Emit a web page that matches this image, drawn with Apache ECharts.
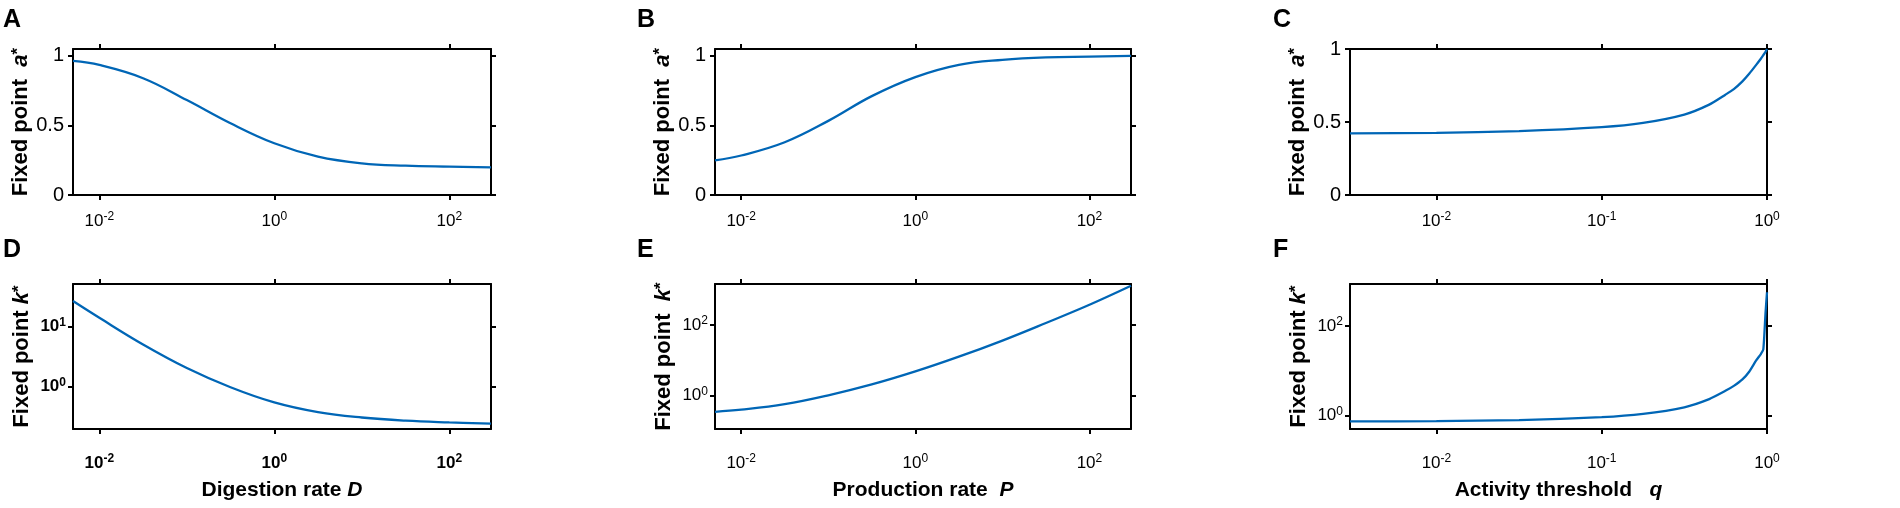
<!DOCTYPE html>
<html>
<head>
<meta charset="utf-8">
<script src="https://cdn.jsdelivr.net/npm/echarts@6/dist/echarts.min.js"></script>
<style>
  html, body { margin: 0; padding: 0; background: #fff; }
  #chart { width: 1900px; height: 508px; }
</style>
</head>
<body>
<div id="chart"></div>
<script>
// x grid shared by panels A, B, D, E (digestion rate D / production rate P)
const rateGrid = [0.005, 0.01, 0.0316, 0.1, 0.316, 1, 3.16, 10, 31.6, 100, 300];
// x grid for panels C, F (activity threshold q)
const qGrid = [0.003, 0.01, 0.0316, 0.1, 0.178, 0.316, 0.447, 0.56, 0.63, 0.71, 0.78, 0.86, 0.92, 0.95, 0.98, 1.0];

const aVsD = [0.964, 0.935, 0.84, 0.683, 0.516, 0.372, 0.276, 0.228, 0.211, 0.204, 0.199];
const aVsP = [0.249, 0.284, 0.379, 0.533, 0.711, 0.848, 0.936, 0.972, 0.99, 0.995, 1.0];
const aVsQ = [0.422, 0.426, 0.438, 0.465, 0.494, 0.551, 0.619, 0.687, 0.725, 0.778, 0.83, 0.891, 0.935, 0.958, 0.98, 1.0];
const kVsD = [26.1, 13.8, 5.0, 2.04, 0.98, 0.55, 0.38, 0.31, 0.275, 0.257, 0.245];
const kVsP = [0.34, 0.39, 0.56, 1.0, 2.04, 4.79, 12.6, 36.3, 115, 380, 1320];
const kVsQ = [0.74, 0.75, 0.79, 0.92, 1.09, 1.53, 2.33, 3.56, 4.6, 6.4, 9.5, 17, 24, 30, 200, 570];

// tick positions
const rateTicks = [0.01, 1, 100];
const qTicks = [0.01, 0.1, 1];
const aTicks = [0, 0.5, 1];
const kTicksD = [1, 10];
const kTicksPQ = [1, 100];

const FONT = '"Liberation Sans", Arial, sans-serif';
const BLUE = '#0066b6';

const chart = echarts.init(document.getElementById('chart'));

function pow10Label(v) {
  const e = Math.round(Math.log10(v));
  return '{b|10}{s|' + e + '}';
}

function richNum(bold) {
  const w = bold ? 'bold' : 'normal';
  return {
    b: { fontFamily: FONT, fontSize: 17, fontWeight: w, color: '#000', lineHeight: 20 },
    s: { fontFamily: FONT, fontSize: 12, fontWeight: w, color: '#000', verticalAlign: 'top', lineHeight: 12 }
  };
}

function nameRich(size) {
  return {
    t: { fontFamily: FONT, fontSize: size, fontWeight: 'bold', color: '#000' },
    v: { fontFamily: FONT, fontSize: size, fontWeight: 'bold', fontStyle: 'italic', color: '#000' },
    s: { fontFamily: FONT, fontSize: size - 5, fontWeight: 'bold', color: '#000', verticalAlign: 'top' }
  };
}

const frameLine = { show: true, onZero: false, lineStyle: { color: '#000', width: 2 } };
const frameTick = { show: true, inside: false, length: 5, lineStyle: { color: '#000', width: 2 } };

const panels = [
  { letter: 'A', col: 0, row: 0, xs: rateGrid, ys: aVsD, xMin: 0.005, xMax: 300, xTicks: rateTicks,
    yLog: false, yMin: 0, yMax: 1.05, yTicks: aTicks, yName: '{t|Fixed point  }{v|a}{s|*}', smooth: 0.4 },
  { letter: 'B', col: 1, row: 0, xs: rateGrid, ys: aVsP, xMin: 0.005, xMax: 300, xTicks: rateTicks,
    yLog: false, yMin: 0, yMax: 1.05, yTicks: aTicks, yName: '{t|Fixed point  }{v|a}{s|*}', smooth: 0.4 },
  { letter: 'C', col: 2, row: 0, xs: qGrid, ys: aVsQ, xMin: 0.003, xMax: 1, xTicks: qTicks,
    yLog: false, yMin: 0, yMax: 1, yTicks: aTicks, yName: '{t|Fixed point  }{v|a}{s|*}', smooth: 0.2 },
  { letter: 'D', col: 0, row: 1, xs: rateGrid, ys: kVsD, xMin: 0.005, xMax: 300, xTicks: rateTicks,
    yLog: true, yMin: 0.2, yMax: 50, yTicks: kTicksD, yName: '{t|Fixed point }{v|k}{s|*}',
    xName: '{t|Digestion rate }{v|D}', bold: true, smooth: 0.4 },
  { letter: 'E', col: 1, row: 1, xs: rateGrid, ys: kVsP, xMin: 0.005, xMax: 300, xTicks: rateTicks,
    yLog: true, yMin: 0.11, yMax: 1480, yTicks: kTicksPQ, yName: '{t|Fixed point  }{v|k}{s|*}',
    xName: '{t|Production rate  }{v|P}', smooth: 0.4 },
  { letter: 'F', col: 2, row: 1, xs: qGrid, ys: kVsQ, xMin: 0.003, xMax: 1, xTicks: qTicks,
    yLog: true, yMin: 0.5, yMax: 870, yTicks: kTicksPQ, yName: '{t|Fixed point }{v|k}{s|*}',
    xName: '{t|Activity threshold   }{v|q}', smooth: 0.2 }
];

const colLeft = [73, 715, 1350];
const colWidth = [418, 416, 417];
const rowTop = [49, 284];
const rowHeight = [146, 145];
const letterX = [3, 637, 1273];
const letterY = [8, 238];

const grid = [], xAxis = [], yAxis = [], series = [], title = [];

panels.forEach((p, i) => {
  grid.push({
    left: colLeft[p.col], top: rowTop[p.row],
    width: colWidth[p.col], height: rowHeight[p.row],
    containLabel: false, outerBoundsMode: 'none'
  });
  title.push({
    text: p.letter, left: letterX[p.col], top: letterY[p.row], padding: 0,
    textStyle: { fontFamily: FONT, fontSize: 25, fontWeight: 'bold', color: '#000' }
  });

  const xBase = {
    type: 'log', logBase: 10, gridIndex: i, min: p.xMin, max: p.xMax,
    axisLine: frameLine, splitLine: { show: false }
  };
  xAxis.push(Object.assign({}, xBase, {
    position: 'bottom',
    axisTick: Object.assign({ customValues: p.xTicks }, frameTick),
    axisLabel: {
      customValues: p.xTicks, formatter: pow10Label, margin: p.row === 0 ? 16 : 24,
      rich: richNum(p.bold)
    },
    name: p.xName || '', nameLocation: 'middle', nameGap: 51,
    nameTextStyle: { rich: nameRich(21) }
  }));
  xAxis.push(Object.assign({}, xBase, {
    position: 'top',
    axisTick: Object.assign({ customValues: p.xTicks }, frameTick),
    axisLabel: { show: false }
  }));

  const yBase = p.yLog
    ? { type: 'log', logBase: 10 }
    : { type: 'value' };
  Object.assign(yBase, {
    gridIndex: i, min: p.yMin, max: p.yMax,
    axisLine: frameLine, splitLine: { show: false }
  });
  const yLabel = p.yLog
    ? { customValues: p.yTicks, formatter: pow10Label, margin: 7, rich: richNum(p.bold) }
    : { customValues: p.yTicks, formatter: v => String(v), margin: 9,
        fontFamily: FONT, fontSize: 20, color: '#000' };
  yAxis.push(Object.assign({}, yBase, {
    position: 'left',
    axisTick: Object.assign({ customValues: p.yTicks }, frameTick),
    axisLabel: yLabel,
    name: p.yName, nameLocation: 'middle', nameGap: 40, nameRotate: 90,
    nameTextStyle: { rich: nameRich(22) }
  }));
  yAxis.push(Object.assign({}, yBase, {
    position: 'right',
    axisTick: Object.assign({ customValues: p.yTicks }, frameTick),
    axisLabel: { show: false }
  }));

  series.push({
    type: 'line',
    xAxisIndex: i * 2, yAxisIndex: i * 2,
    data: p.xs.map((x, j) => [x, p.ys[j]]),
    showSymbol: false, smooth: p.smooth, clip: true,
    lineStyle: { color: BLUE, width: 2.3 },
    animation: false
  });
});

chart.setOption({
  animation: false,
  backgroundColor: '#fff',
  title: title,
  grid: grid,
  xAxis: xAxis,
  yAxis: yAxis,
  series: series
});
</script>
</body>
</html>
